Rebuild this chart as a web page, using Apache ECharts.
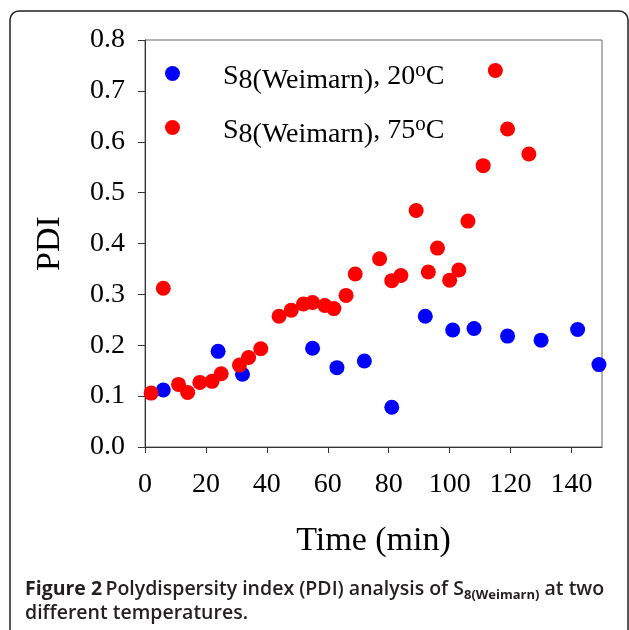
<!DOCTYPE html>
<html>
<head>
<meta charset="utf-8">
<title>PDI of S8(Weimarn)</title>
<script src="https://cdn.jsdelivr.net/npm/echarts@6/dist/echarts.min.js"></script>
<style>
  html, body { margin: 0; padding: 0; background: #fff; }
  #chart { width: 629px; height: 630px; }
</style>
</head>
<body>
<div id="chart"></div>
<script>
// 20 °C 样品
const time20 = [6, 24, 32, 55, 63, 72, 81, 92, 101, 108, 119, 130, 142, 149]
const pdi20 = [0.112, 0.188, 0.143, 0.194, 0.156, 0.169, 0.078, 0.257, 0.230, 0.233, 0.218, 0.210, 0.231, 0.162]
// 75 °C 样品
const time75 = [2, 6, 11, 14, 18, 22, 25, 31, 34, 38, 44, 48, 52, 55, 59, 62, 66, 69, 77, 81, 84, 89, 93, 96, 100, 103, 106, 111, 115, 119, 126]
const pdi75 = [0.106, 0.312, 0.123, 0.107, 0.127, 0.129, 0.144, 0.161, 0.176, 0.193, 0.257, 0.269, 0.281, 0.284, 0.278, 0.272, 0.298, 0.340, 0.370, 0.327, 0.337, 0.465, 0.344, 0.391, 0.328, 0.348, 0.444, 0.553, 0.740, 0.625, 0.576]
// 坐标轴刻度
const xTicks = [0, 20, 40, 60, 80, 100, 120, 140]
const yTicks = [0.0, 0.1, 0.2, 0.3, 0.4, 0.5, 0.6, 0.7, 0.8]

const zip = (xs, ys) => xs.map((x, i) => [x, ys[i]])
const serif = 'Liberation Serif'
const sans = 'Open Sans'

let myChart = echarts.init(document.getElementById('chart'))

// 图例文字（下标、上标）
const legendRich = {
  n: { fontFamily: serif, fontSize: 28, color: '#000', lineHeight: 27, padding: [3, 0, 8, 0], verticalAlign: 'top' },
  sub: { fontFamily: serif, fontSize: 28, color: '#000', lineHeight: 27, padding: [7, 0, 8, 0], verticalAlign: 'top' },
  sup: { fontFamily: serif, fontSize: 21, color: '#000', lineHeight: 20, padding: [0, 0, 8, 0], verticalAlign: 'top' },
}
const legendNames = {
  t20: '{n|S}{sub|8(Weimarn)}{n|, 20}{sup|o}{n|C}',
  t75: '{n|S}{sub|8(Weimarn)}{n|, 75}{sup|o}{n|C}',
}

myChart.setOption({
  animation: false,
  backgroundColor: '#fff',
  grid: {
    left: 145,
    top: 40,
    right: 27,
    bottom: 183,
    containLabel: false,
    outerBoundsMode: 'none',
    show: true,
    borderColor: '#666',
    borderWidth: 1,
  },
  legend: {
    orient: 'vertical',
    left: 160,
    top: 55,
    itemWidth: 15,
    itemHeight: 15,
    itemGap: 11,
    icon: 'circle',
    data: ['t20', 't75'],
    formatter: name => legendNames[name],
    textStyle: { padding: [0, 0, 0, 38], rich: legendRich },
  },
  xAxis: {
    type: 'value',
    min: 0,
    max: 150,
    interval: 20,
    name: 'Time (min)',
    nameLocation: 'middle',
    nameGap: 77,
    nameTextStyle: { fontFamily: serif, fontSize: 34, color: '#000' },
    axisLine: { show: true, lineStyle: { color: '#333', width: 1 } },
    axisTick: { show: true, length: 6, lineStyle: { color: '#333' } },
    splitLine: { show: false },
    axisLabel: {
      margin: 24,
      showMaxLabel: false,
      fontFamily: serif,
      fontSize: 28,
      color: '#000',
      formatter: v => (xTicks.indexOf(v) >= 0 ? String(v) : ''),
    },
  },
  yAxis: {
    type: 'value',
    min: 0,
    max: 0.8,
    interval: 0.1,
    name: 'PDI',
    nameLocation: 'middle',
    nameGap: 78,
    nameTextStyle: { fontFamily: serif, fontSize: 34, color: '#000' },
    axisLine: { show: true, lineStyle: { color: '#333', width: 1 } },
    axisTick: { show: true, length: 7, lineStyle: { color: '#333' } },
    splitLine: { show: false },
    axisLabel: {
      margin: 20,
      fontFamily: serif,
      fontSize: 28,
      color: '#000',
      formatter: v => {
        let k = yTicks.findIndex(t => Math.abs(t - v) < 1e-6)
        return k >= 0 ? yTicks[k].toFixed(1) : ''
      },
    },
  },
  series: [
    {
      name: 't20',
      type: 'scatter',
      data: zip(time20, pdi20),
      symbolSize: 15,
      itemStyle: { color: '#0000ff', opacity: 1 },
    },
    {
      name: 't75',
      type: 'scatter',
      data: zip(time75, pdi75),
      symbolSize: 15,
      itemStyle: { color: '#ff0000', opacity: 1 },
    },
  ],
  graphic: [
    // 外框
    {
      type: 'rect',
      silent: true,
      shape: { x: 10, y: 11, width: 618, height: 700, r: 9 },
      style: { fill: 'none', stroke: '#222', lineWidth: 1.5 },
    },
    // 图注
    {
      type: 'text',
      left: 25,
      top: 579,
      style: {
        text: '{b|Figure 2} {r|Polydispersity index (PDI) analysis of S}{s|8(Weimarn)}{r| at two}\n{r|different temperatures.}',
        rich: {
          b: { fontFamily: sans, fontSize: 19.5, fontWeight: 'bold', fill: '#231f20', lineHeight: 24, verticalAlign: 'bottom', padding: [0, 0, 3, 0] },
          r: { fontFamily: sans, fontSize: 19.5, fontWeight: 600, fill: '#231f20', lineHeight: 24, verticalAlign: 'bottom', padding: [0, 0, 3, 0] },
          s: { fontFamily: sans, fontSize: 13, fontWeight: 'bold', fill: '#231f20', lineHeight: 20, verticalAlign: 'bottom' },
        },
      },
    },
  ],
})

window.addEventListener('resize', () => {
  myChart.resize()
})
</script>
</body>
</html>
